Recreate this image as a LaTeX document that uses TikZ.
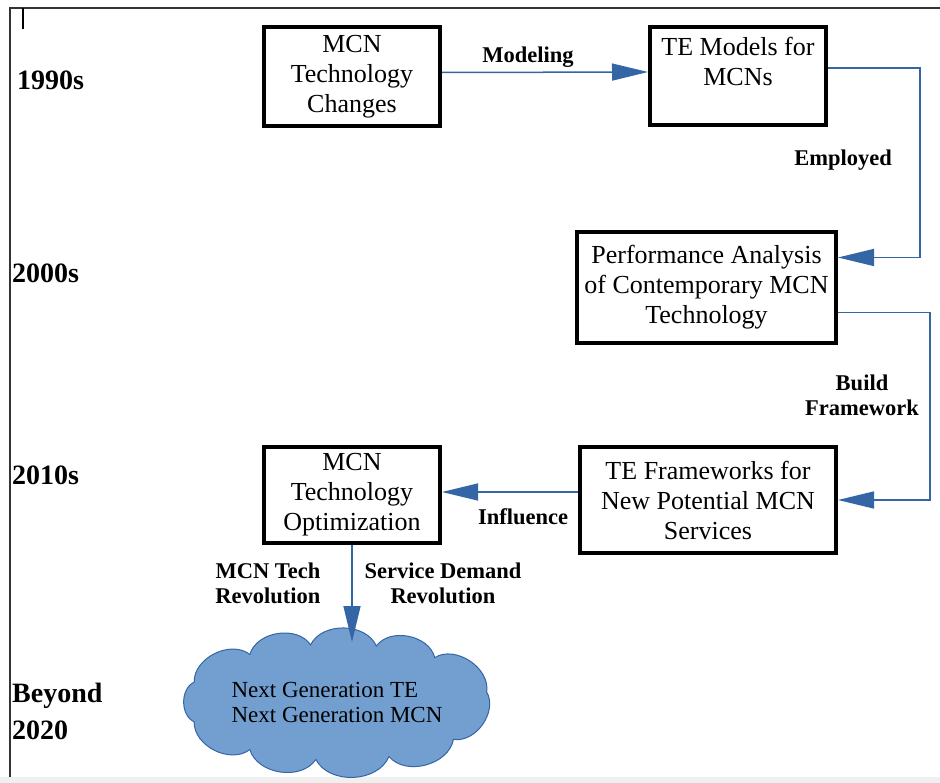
\documentclass[tikz,border=0pt]{standalone}
\usepackage{fontspec}
\setmainfont{Liberation Serif}
\usetikzlibrary{arrows.meta}
\definecolor{lineblue}{HTML}{3465A4}
\definecolor{cloudblue}{HTML}{729FCF}

\begin{document}
\begin{tikzpicture}[x=1pt, y=-1pt,
    box/.style={draw, line width=4pt, align=center, inner sep=0pt, font=\fontsize{26}{30}\selectfont},
    conn/.style={draw=lineblue, line width=1.5pt, -{Triangle[length=36pt, width=17pt]}},
    lbl/.style={align=center, inner sep=0pt, font=\fontsize{22.5}{25}\selectfont\bfseries},
    year/.style={anchor=west, align=left, inner sep=0pt, font=\fontsize{28}{37}\selectfont\bfseries}]
    \useasboundingbox (0,0) rectangle (940,783);

    % page frame
    \fill[black!6] (0,777) rectangle (940,783);
    \draw[black!80, line width=1.5pt] (10,777) -- (10,8) -- (940,8);
    \draw[line width=2.5pt] (23,8) -- (23,29);

    % decades
    \node[year] (y1990) at (17,80) {1990s};
    \node[year] (y2000) at (12,273) {2000s};
    \node[year] (y2010) at (12,475) {2010s};
    \node[year] (y2020) at (12,711) {Beyond\\2020};

    % boxes
    \node[box, minimum width=176, minimum height=99] (changes) at (352,76.5) {MCN\\Technology\\Changes};
    \node[box, minimum width=176, minimum height=98] (models) at (738,76) {TE Models for\\MCNs\\\mbox{}};
    \node[box, minimum width=259, minimum height=111] (perf) at (706.5,287.5) {Performance Analysis\\of Contemporary MCN\\Technology};
    \node[box, minimum width=256, minimum height=106] (frameworks) at (708,500) {TE Frameworks for\\New Potential MCN\\Services};
    \node[box, minimum width=176, minimum height=96] (optim) at (352,495) {MCN\\Technology\\Optimization};

    % cloud, puffs spread evenly round an ellipse
    \draw[draw=lineblue, fill=cloudblue, line width=1pt]
        ({337+152*cos(10)},{702-58*sin(10)})
        \foreach \t in {50,75,100,125,160,200,235,262,290,320,370} {
            to[bend right=65] ({337+152*cos(\t)},{702-58*sin(\t)})
        } -- cycle;
    \node[align=left, font=\fontsize{23}{25}\selectfont] (nextgen) at (337,702) {Next Generation TE\\Next Generation MCN};
    \coordinate (cloudtop) at (337,642);

    % connector labels
    \node[lbl] (modeling) at (528,57) {Modeling};
    \node[lbl] (employed) at (843,160) {Employed};
    \node[lbl] (build) at (862,395) {Build\\Framework};
    \node[lbl] (influence) at (523,517) {Influence};
    \node[lbl] (techrev) at (268,583) {MCN Tech\\Revolution};
    \node[lbl] (servrev) at (443,583) {Service Demand\\Revolution};

    % connectors
    \draw[conn] ([yshift=4pt]changes.east) -- ([yshift=4pt]models.west);
    \draw[conn] ([yshift=8pt]models.east) -| ([xshift=82pt, yshift=30pt]perf.east) -- ([yshift=30pt]perf.east);
    \draw[conn] ([yshift=-25pt]perf.east) -| ([xshift=92pt]frameworks.east) -- (frameworks.east);
    \coordinate (inflstart) at ([yshift=8pt]frameworks.west);
    \draw[conn] (inflstart) -- (inflstart -| optim.east);
    \draw[conn] (optim.south) -- (optim.south |- cloudtop);
\end{tikzpicture}
\end{document}
